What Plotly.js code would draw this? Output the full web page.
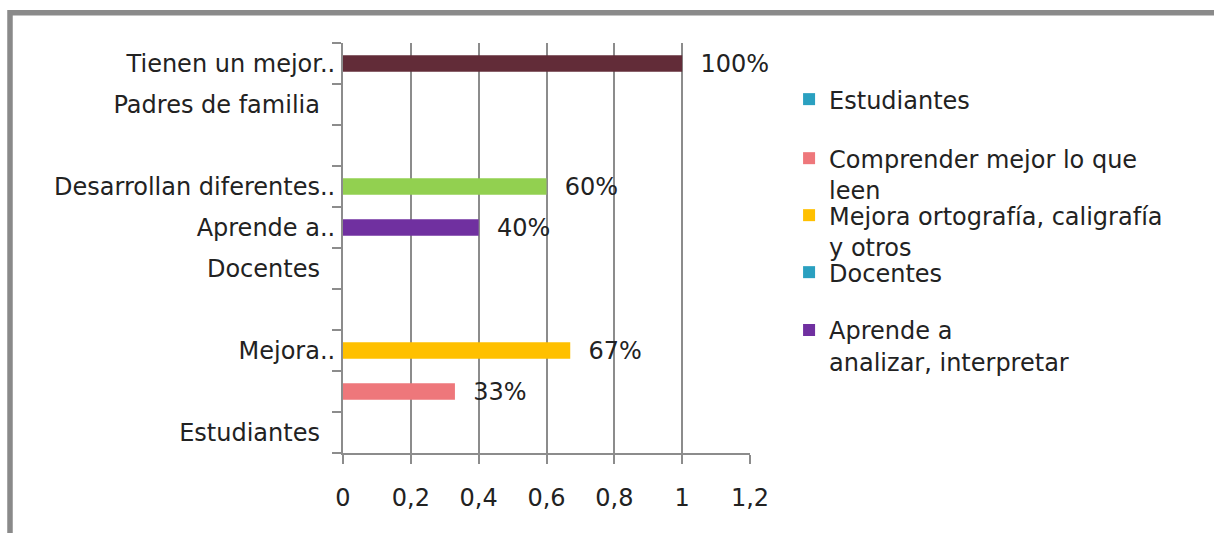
<!DOCTYPE html>
<html>
<head>
<meta charset="utf-8">
<script src="https://cdn.plot.ly/plotly-3.0.1.min.js"></script>
<style>
  html, body { margin: 0; padding: 0; background: #ffffff; }
  #chart { width: 1214px; height: 533px; }
</style>
</head>
<body>
<div id="chart"></div>
<script>
// Category axis labels, bottom to top
const categoryLabels = [
  "Estudiantes\u00a0\u00a0",
  "",
  "Mejora..",
  "",
  "Docentes\u00a0\u00a0",
  "Aprende a..",
  "Desarrollan diferentes..",
  "",
  "Padres de familia\u00a0\u00a0",
  "Tienen un mejor.."
];

// Series (one per coloured bar / legend entry)
const seriesNames = [
  "Estudiantes",
  "Comprender mejor lo que<br>leen",
  "Mejora ortografía, caligrafía<br>y otros",
  "Docentes",
  "Aprende a<br>analizar, interpretar",
  "Desarrollan diferentes..",
  "Padres de familia",
  "Tienen un mejor.."
];
const seriesCategoryIndex = [0, 1, 2, 4, 5, 6, 8, 9];
const seriesValues = [null, 0.33, 0.67, null, 0.40, 0.60, null, 1.00];
const seriesColors = ["#2AA0C0", "#EE777B", "#FFC000", "#2AA0C0", "#7030A0", "#92D050", "#2AA0C0", "#622C38"];
const seriesLegend = ["legend", "legend2", "legend3", "legend4", "legend5", null, null, null];

const xTickVals = [0, 0.2, 0.4, 0.6, 0.8, 1, 1.2];

const FONT = "DejaVu Sans";
const TXT = "#222222";
const GRID = "#8c8c8c";

const traces = seriesNames.map((name, i) => ({
  type: "bar",
  orientation: "h",
  name: name,
  x: [seriesValues[i]],
  y: [seriesCategoryIndex[i]],
  width: 0.4,
  marker: { color: seriesColors[i] },
  showlegend: seriesLegend[i] !== null,
  legend: seriesLegend[i] || "legend",
  text: seriesValues[i] == null ? [""] : [seriesValues[i]],
  texttemplate: seriesValues[i] == null ? "" : "\u00a0\u00a0%{x:.0%}",
  textposition: "outside",
  outsidetextfont: { family: FONT, size: 24, color: TXT },
  constraintext: "none",
  cliponaxis: false,
  hoverinfo: "skip"
}));

const halfTicks = categoryLabels.map((_, i) => i - 0.5).concat([categoryLabels.length - 0.5]);

function legendAt(yPaper) {
  return {
    x: 1.096,
    xanchor: "left",
    y: yPaper,
    yanchor: "top",
    valign: "top",
    font: { family: FONT, size: 24, color: TXT },
    bgcolor: "rgba(0,0,0,0)",
    itemclick: false
  };
}

const layout = {
  width: 1214,
  height: 533,
  margin: { l: 343, r: 464, t: 43, b: 80 },
  paper_bgcolor: "#ffffff",
  plot_bgcolor: "#ffffff",
  separators: ",.",
  barmode: "overlay",
  font: { family: FONT, size: 24, color: TXT },
  showlegend: true,
  legend: legendAt(0.917),
  legend2: legendAt(0.773),
  legend3: legendAt(0.634),
  legend4: legendAt(0.495),
  legend5: legendAt(0.354),
  xaxis: {
    range: [0, 1.2],
    tickvals: xTickVals,
    ticks: "outside",
    ticklen: 9,
    tickwidth: 2,
    tickcolor: GRID,
    showgrid: true,
    gridcolor: GRID,
    gridwidth: 2,
    showline: true,
    linecolor: GRID,
    linewidth: 2,
    zeroline: false,
    ticklabelstandoff: 13,
    tickfont: { family: FONT, size: 24, color: TXT },
    fixedrange: true
  },
  yaxis: {
    range: [-0.5, categoryLabels.length - 0.5],
    tickmode: "array",
    tickvals: categoryLabels.map((_, i) => i),
    ticktext: categoryLabels,
    ticks: "",
    showgrid: false,
    showline: true,
    linecolor: GRID,
    linewidth: 2,
    zeroline: false,
    ticklabelstandoff: 1,
    tickfont: { family: FONT, size: 24, color: TXT },
    minor: {
      tickmode: "array",
      tickvals: halfTicks,
      ticks: "outside",
      ticklen: 9,
      tickwidth: 2,
      tickcolor: GRID,
      showgrid: false
    },
    fixedrange: true
  },
  shapes: [{
    type: "rect",
    xref: "paper", yref: "paper",
    x0: -0.8182, x1: 3,
    y0: -2, y1: 1.074,
    line: { color: "#8a8a8a", width: 5.5 },
    fillcolor: "rgba(0,0,0,0)",
    layer: "below"
  }]
};

Plotly.newPlot("chart", traces, layout, { displayModeBar: false, staticPlot: true });
</script>
</body>
</html>
